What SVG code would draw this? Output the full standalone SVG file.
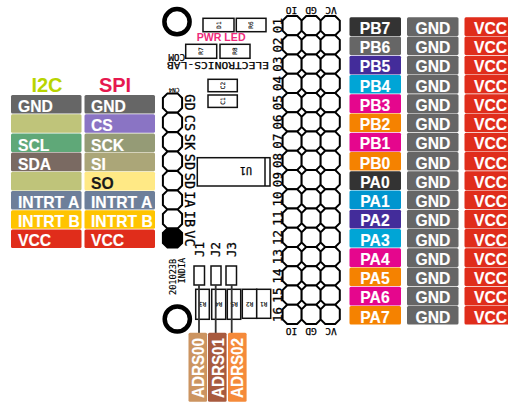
<svg xmlns="http://www.w3.org/2000/svg" width="508" height="403" viewBox="0 0 508 403">
<style>
text{font-family:"Liberation Sans",Arial,sans-serif}
.t{font-size:15.7px;font-weight:700;fill:#fff;stroke:#fff;stroke-width:.15}
.c{text-anchor:middle}
.g{fill:#666}.v{fill:#e02d1b}.o{fill:#f58200}.p{fill:#e5068d}.d{fill:#333}.u{fill:#432c9a}.b{fill:#00a5d6}.l{fill:#bfc47a}.a{fill:#6d7f9a}.y{fill:#ffc400}
.box{fill:#fff;stroke:#111;stroke-width:1.5}
.pad{fill:#fff;stroke:#000;stroke-width:2}
.s{font-size:6px;font-family:"DejaVu Sans Mono",monospace;fill:#000;stroke:#000;stroke-width:.15;text-anchor:middle}
.m{font-family:"DejaVu Sans Mono",monospace;font-size:9.5px;fill:#000;stroke:#000;stroke-width:.25;text-anchor:middle}
.n{font-family:"DejaVu Sans Mono",monospace;font-size:12.5px;fill:#000;stroke:#000;stroke-width:.3;text-anchor:middle}
.hl{font-family:"DejaVu Sans Mono",monospace;font-size:13.5px;fill:#000;stroke:#000;stroke-width:.3;text-anchor:middle}
.hole{fill:none;stroke:#000;stroke-width:4.5}
</style>
<defs>
<polygon id="oct" points="-5,-9.6 5,-9.6 9.6,-5 9.6,5 5,9.6 -5,9.6 -9.6,5 -9.6,-5"/>
<rect id="lb" width="51.5" height="18.6" rx="1.5"/>
<rect id="lt" width="70.5" height="18.6" rx="1.5"/>
<rect id="ad" width="18.6" height="69" rx="1.5"/>
</defs>

<g id="board">
<circle class="hole" cx="177" cy="21.7" r="12.6"/>
<circle class="hole" cx="177.3" cy="319" r="12.6"/>
<rect class="box" x="203" y="18.3" width="31" height="13.4"/>
<rect class="box" x="236.3" y="18.3" width="29.7" height="13.4"/>
<rect class="box" x="185.7" y="44.3" width="31" height="14"/>
<rect class="box" x="220" y="44.3" width="30" height="14"/>
<rect class="box" x="208" y="79.3" width="29.3" height="12.4"/>
<rect class="box" x="208" y="95" width="29.3" height="12.4"/>
<rect class="box" x="197.3" y="157.7" width="72.7" height="28.3"/>
<line class="box" x1="265" y1="157.7" x2="265" y2="186"/>
<rect class="box" x="194" y="266" width="10.5" height="19"/>
<rect class="box" x="211" y="266" width="10" height="19"/>
<rect class="box" x="226" y="266" width="10.5" height="19"/>
<rect class="box" x="195.7" y="289.3" width="13.6" height="30"/>
<rect class="box" x="211.7" y="289.3" width="14" height="30"/>
<rect class="box" x="227.3" y="289.3" width="13.4" height="30"/>
<rect class="box" x="242.3" y="289.3" width="14.4" height="29"/>
<rect class="box" x="256.7" y="289.3" width="14" height="29"/>
<text class="s" transform="rotate(-90 219 25)" x="219" y="27">D1</text>
<text class="s" transform="rotate(-90 251 25)" x="251" y="27">R6</text>
<text class="s" transform="rotate(-90 201 51)" x="201" y="53">R7</text>
<text class="s" transform="rotate(-90 235 51)" x="235" y="53">R8</text>
<text class="s" transform="rotate(-90 222.6 85.5)" x="222.6" y="87.5">C2</text>
<text class="s" transform="rotate(-90 222.6 101)" x="222.6" y="103">C1</text>
<text class="s" transform="rotate(180 202.5 304)" x="202.5" y="306">R3</text>
<text class="s" transform="rotate(180 218.7 304)" x="218.7" y="306">R4</text>
<text class="s" transform="rotate(180 234 304)" x="234" y="306">R5</text>
<text class="s" transform="rotate(180 249.5 304)" x="249.5" y="306">R2</text>
<text class="s" transform="rotate(180 263.7 304)" x="263.7" y="306">R1</text>
<text class="s" transform="rotate(180 174 90)" x="174" y="92">CN4</text>
<text class="m" transform="rotate(180 246 170)" x="246" y="173.5" style="font-size:10px">U1</text>
<text x="196.7" y="41" style="font-size:10.6px;font-weight:700;fill:#ee2a7b">PWR LED</text>
<text class="m" transform="rotate(180 218 65.7)" x="218" y="69.2" textLength="102" lengthAdjust="spacingAndGlyphs">ELECTRONICS-LAB</text>
<text class="m" transform="rotate(180 176.7 57)" x="176.7" y="60.5" textLength="17" lengthAdjust="spacingAndGlyphs">COM</text>
<text class="s" transform="rotate(-90 176 295)" x="176" y="295" style="text-anchor:start;font-size:8.6px">201023B</text>
<text class="s" transform="rotate(-90 184.5 258)" x="184.5" y="258" style="text-anchor:end;font-size:8.4px">INDIA</text>
<text class="n" transform="rotate(-90 199.5 257)" x="199.5" y="261" style="text-anchor:start">J1</text>
<text class="n" transform="rotate(-90 216 257)" x="216" y="261" style="text-anchor:start">J2</text>
<text class="n" transform="rotate(-90 232 257)" x="232" y="261" style="text-anchor:start">J3</text>
</g>

<g id="cn4">
<use href="#oct" class="pad" transform="translate(172.5 103)"/>
<use href="#oct" class="pad" transform="translate(172.5 122.4)"/>
<use href="#oct" class="pad" transform="translate(172.5 141.8)"/>
<use href="#oct" class="pad" transform="translate(172.5 161.2)"/>
<use href="#oct" class="pad" transform="translate(172.5 180.6)"/>
<use href="#oct" class="pad" transform="translate(172.5 200)"/>
<use href="#oct" class="pad" transform="translate(172.5 219)"/>
<use href="#oct" transform="translate(172.5 238)" style="fill:#000;stroke:#000;stroke-width:2"/>
<text class="hl" transform="rotate(90 189.5 102.5)" x="189.5" y="107">GD</text>
<text class="hl" transform="rotate(90 189.5 123)" x="189.5" y="127.5">CS</text>
<text class="hl" transform="rotate(90 189.5 142)" x="189.5" y="146.5">SK</text>
<text class="hl" transform="rotate(90 189.5 162)" x="189.5" y="166.5">SD</text>
<text class="hl" transform="rotate(90 189.5 181)" x="189.5" y="185.5">SD</text>
<text class="hl" transform="rotate(90 189.5 199.5)" x="189.5" y="204">IA</text>
<text class="hl" transform="rotate(90 189.5 219)" x="189.5" y="223.5">IB</text>
<text class="hl" transform="rotate(90 189.5 238.5)" x="189.5" y="243">VC</text>
</g>

<g id="header">
<g id="hdr-labels">
<text class="m" transform="rotate(180 291.5 10.5)" x="291.5" y="14">IO</text>
<text class="m" transform="rotate(180 311 10.5)" x="311" y="14">GD</text>
<text class="m" transform="rotate(180 331 10.5)" x="331" y="14">VC</text>
<text class="m" transform="rotate(180 291.5 331)" x="291.5" y="334.5">IO</text>
<text class="m" transform="rotate(180 311 331)" x="311" y="334.5">GD</text>
<text class="m" transform="rotate(180 331 331)" x="331" y="334.5">VC</text>
</g>
<g id="hdr-numbers">
<text class="n" transform="rotate(-90 277.7 25.6)" x="277.7" y="30">01</text>
<text class="n" transform="rotate(-90 277.7 44.9)" x="277.7" y="49.3">02</text>
<text class="n" transform="rotate(-90 277.7 64.1)" x="277.7" y="68.5">03</text>
<text class="n" transform="rotate(-90 277.7 83.4)" x="277.7" y="87.8">04</text>
<text class="n" transform="rotate(-90 277.7 102.6)" x="277.7" y="107">05</text>
<text class="n" transform="rotate(-90 277.7 121.9)" x="277.7" y="126.3">06</text>
<text class="n" transform="rotate(-90 277.7 141.1)" x="277.7" y="145.5">07</text>
<text class="n" transform="rotate(-90 277.7 160.4)" x="277.7" y="164.8">08</text>
<text class="n" transform="rotate(-90 277.7 179.6)" x="277.7" y="184">09</text>
<text class="n" transform="rotate(-90 277.7 198.9)" x="277.7" y="203.3">10</text>
<text class="n" transform="rotate(-90 277.7 218.1)" x="277.7" y="222.5">11</text>
<text class="n" transform="rotate(-90 277.7 237.4)" x="277.7" y="241.8">12</text>
<text class="n" transform="rotate(-90 277.7 256.6)" x="277.7" y="261">13</text>
<text class="n" transform="rotate(-90 277.7 275.9)" x="277.7" y="280.3">14</text>
<text class="n" transform="rotate(-90 277.7 295.1)" x="277.7" y="299.5">15</text>
<text class="n" transform="rotate(-90 277.7 314.4)" x="277.7" y="318.8">16</text>
</g>
<g id="pads" class="pad">
<use href="#oct" x="292.2" y="25.6"/><use href="#oct" x="311.2" y="25.6"/><use href="#oct" x="330.2" y="25.6"/>
<use href="#oct" x="292.2" y="44.9"/><use href="#oct" x="311.2" y="44.9"/><use href="#oct" x="330.2" y="44.9"/>
<use href="#oct" x="292.2" y="64.1"/><use href="#oct" x="311.2" y="64.1"/><use href="#oct" x="330.2" y="64.1"/>
<use href="#oct" x="292.2" y="83.4"/><use href="#oct" x="311.2" y="83.4"/><use href="#oct" x="330.2" y="83.4"/>
<use href="#oct" x="292.2" y="102.6"/><use href="#oct" x="311.2" y="102.6"/><use href="#oct" x="330.2" y="102.6"/>
<use href="#oct" x="292.2" y="121.9"/><use href="#oct" x="311.2" y="121.9"/><use href="#oct" x="330.2" y="121.9"/>
<use href="#oct" x="292.2" y="141.1"/><use href="#oct" x="311.2" y="141.1"/><use href="#oct" x="330.2" y="141.1"/>
<use href="#oct" x="292.2" y="160.4"/><use href="#oct" x="311.2" y="160.4"/><use href="#oct" x="330.2" y="160.4"/>
<use href="#oct" x="292.2" y="179.6"/><use href="#oct" x="311.2" y="179.6"/><use href="#oct" x="330.2" y="179.6"/>
<use href="#oct" x="292.2" y="198.9"/><use href="#oct" x="311.2" y="198.9"/><use href="#oct" x="330.2" y="198.9"/>
<use href="#oct" x="292.2" y="218.1"/><use href="#oct" x="311.2" y="218.1"/><use href="#oct" x="330.2" y="218.1"/>
<use href="#oct" x="292.2" y="237.4"/><use href="#oct" x="311.2" y="237.4"/><use href="#oct" x="330.2" y="237.4"/>
<use href="#oct" x="292.2" y="256.6"/><use href="#oct" x="311.2" y="256.6"/><use href="#oct" x="330.2" y="256.6"/>
<use href="#oct" x="292.2" y="275.9"/><use href="#oct" x="311.2" y="275.9"/><use href="#oct" x="330.2" y="275.9"/>
<use href="#oct" x="292.2" y="295.1"/><use href="#oct" x="311.2" y="295.1"/><use href="#oct" x="330.2" y="295.1"/>
<use href="#oct" x="292.2" y="314.4"/><use href="#oct" x="311.2" y="314.4"/><use href="#oct" x="330.2" y="314.4"/>
</g>
</g>

<g id="connectors" fill="none" stroke="#333" stroke-width="1.8">
<line x1="199" y1="285" x2="199" y2="333"/>
<line x1="215.7" y1="285" x2="215.7" y2="333"/>
<line x1="231.7" y1="285" x2="231.7" y2="333"/>
</g>

<g id="adrs">
<g id="adrs00"><use href="#ad" x="188.5" y="332.7" style="fill:#cc9460"/><text class="t" transform="rotate(-90 204 398)" x="204" y="398" textLength="60" lengthAdjust="spacingAndGlyphs">ADRS00</text></g>
<g id="adrs01"><use href="#ad" x="208" y="332.7" style="fill:#a85a3e"/><text class="t" transform="rotate(-90 224 398)" x="224" y="398" textLength="60" lengthAdjust="spacingAndGlyphs">ADRS01</text></g>
<g id="adrs02"><use href="#ad" x="228" y="332.7" style="fill:#f58a3a"/><text class="t" transform="rotate(-90 243 398)" x="243" y="398" textLength="60" lengthAdjust="spacingAndGlyphs">ADRS02</text></g>
</g>

<g id="i2c">
<text x="47" y="92" class="c" style="font-size:20px;font-weight:700;fill:#b8d400">I2C</text>
<g id="i2c-gnd"><use href="#lt" x="11" y="95" class="g"/><text class="t" x="18" y="112">GND</text></g>
<g id="i2c-blank1"><use href="#lt" x="11" y="114.2" class="l"/></g>
<g id="i2c-scl"><use href="#lt" x="11" y="133.4" style="fill:#5fa878"/><text class="t" x="18" y="150.5">SCL</text></g>
<g id="i2c-sda"><use href="#lt" x="11" y="152.6" style="fill:#7a6a62"/><text class="t" x="18" y="169.5">SDA</text></g>
<g id="i2c-blank2"><use href="#lt" x="11" y="171.8" class="l"/></g>
<g id="i2c-a"><use href="#lt" x="11" y="191" class="a"/><text class="t" x="18" y="208">INTRT A</text></g>
<g id="i2c-b"><use href="#lt" x="11" y="210.2" class="y"/><text class="t" x="18" y="227">INTRT B</text></g>
<g id="i2c-vcc"><use href="#lt" x="11" y="229.4" class="v"/><text class="t" x="18" y="246.3">VCC</text></g>
</g>

<g id="spi">
<text x="115" y="92" class="c" style="font-size:20px;font-weight:700;fill:#e6184f">SPI</text>
<g id="spi-gnd"><use href="#lt" x="84.5" y="95" class="g"/><text class="t" x="91" y="112">GND</text></g>
<g id="spi-cs"><use href="#lt" x="84.5" y="114.2" style="fill:#8a74c4"/><text class="t" x="91" y="131">CS</text></g>
<g id="spi-sck"><use href="#lt" x="84.5" y="133.4" style="fill:#959b76"/><text class="t" x="91" y="150.5">SCK</text></g>
<g id="spi-si"><use href="#lt" x="84.5" y="152.6" style="fill:#aba678"/><text class="t" x="91" y="169.5">SI</text></g>
<g id="spi-so"><use href="#lt" x="84.5" y="171.8" style="fill:#ffe985"/><text class="t" x="91" y="189" style="fill:#1a1a1a;stroke:#1a1a1a">SO</text></g>
<g id="spi-a"><use href="#lt" x="84.5" y="191" class="a"/><text class="t" x="91" y="208">INTRT A</text></g>
<g id="spi-b"><use href="#lt" x="84.5" y="210.2" class="y"/><text class="t" x="91" y="227">INTRT B</text></g>
<g id="spi-vcc"><use href="#lt" x="84.5" y="229.4" class="v"/><text class="t" x="91" y="246.3">VCC</text></g>
</g>

<g id="pins">
<g id="pb7"><use href="#lb" x="349.5" y="17.3" class="d"/><text class="t c" x="375" y="34">PB7</text></g>
<g id="pb6"><use href="#lb" x="349.5" y="36.5" class="g"/><text class="t c" x="375" y="53">PB6</text></g>
<g id="pb5"><use href="#lb" x="349.5" y="55.8" class="u"/><text class="t c" x="375" y="72">PB5</text></g>
<g id="pb4"><use href="#lb" x="349.5" y="75" class="b"/><text class="t c" x="375" y="91.5">PB4</text></g>
<g id="pb3"><use href="#lb" x="349.5" y="94.3" class="p"/><text class="t c" x="375" y="110.5">PB3</text></g>
<g id="pb2"><use href="#lb" x="349.5" y="113.5" class="o"/><text class="t c" x="375" y="130">PB2</text></g>
<g id="pb1"><use href="#lb" x="349.5" y="132.8" class="p"/><text class="t c" x="375" y="149">PB1</text></g>
<g id="pb0"><use href="#lb" x="349.5" y="152" class="o"/><text class="t c" x="375" y="168.5">PB0</text></g>
<g id="pa0"><use href="#lb" x="349.5" y="171.3" class="d"/><text class="t c" x="375" y="187.5">PA0</text></g>
<g id="pa1"><use href="#lb" x="349.5" y="190.5" style="fill:#0095cf"/><text class="t c" x="375" y="207">PA1</text></g>
<g id="pa2"><use href="#lb" x="349.5" y="209.8" class="u"/><text class="t c" x="375" y="226">PA2</text></g>
<g id="pa3"><use href="#lb" x="349.5" y="229" class="b"/><text class="t c" x="375" y="245.5">PA3</text></g>
<g id="pa4"><use href="#lb" x="349.5" y="248.3" class="p"/><text class="t c" x="375" y="264.5">PA4</text></g>
<g id="pa5"><use href="#lb" x="349.5" y="267.5" class="o"/><text class="t c" x="375" y="284">PA5</text></g>
<g id="pa6"><use href="#lb" x="349.5" y="286.8" class="p"/><text class="t c" x="375" y="303">PA6</text></g>
<g id="pa7"><use href="#lb" x="349.5" y="306" class="o"/><text class="t c" x="375" y="322.5">PA7</text></g>
</g>

<g id="gnd-col">
<g><use href="#lb" x="407" y="17.3" class="g"/><text class="t c" x="433" y="34">GND</text></g>
<g><use href="#lb" x="407" y="36.5" class="g"/><text class="t c" x="433" y="53">GND</text></g>
<g><use href="#lb" x="407" y="55.8" class="g"/><text class="t c" x="433" y="72">GND</text></g>
<g><use href="#lb" x="407" y="75" class="g"/><text class="t c" x="433" y="91.5">GND</text></g>
<g><use href="#lb" x="407" y="94.3" class="g"/><text class="t c" x="433" y="110.5">GND</text></g>
<g><use href="#lb" x="407" y="113.5" class="g"/><text class="t c" x="433" y="130">GND</text></g>
<g><use href="#lb" x="407" y="132.8" class="g"/><text class="t c" x="433" y="149">GND</text></g>
<g><use href="#lb" x="407" y="152" class="g"/><text class="t c" x="433" y="168.5">GND</text></g>
<g><use href="#lb" x="407" y="171.3" class="g"/><text class="t c" x="433" y="187.5">GND</text></g>
<g><use href="#lb" x="407" y="190.5" class="g"/><text class="t c" x="433" y="207">GND</text></g>
<g><use href="#lb" x="407" y="209.8" class="g"/><text class="t c" x="433" y="226">GND</text></g>
<g><use href="#lb" x="407" y="229" class="g"/><text class="t c" x="433" y="245.5">GND</text></g>
<g><use href="#lb" x="407" y="248.3" class="g"/><text class="t c" x="433" y="264.5">GND</text></g>
<g><use href="#lb" x="407" y="267.5" class="g"/><text class="t c" x="433" y="284">GND</text></g>
<g><use href="#lb" x="407" y="286.8" class="g"/><text class="t c" x="433" y="303">GND</text></g>
<g><use href="#lb" x="407" y="306" class="g"/><text class="t c" x="433" y="322.5">GND</text></g>
</g>

<g id="vcc-col">
<g><use href="#lb" x="464.5" y="17.3" class="v"/><text class="t" x="474" y="34">VCC</text></g>
<g><use href="#lb" x="464.5" y="36.5" class="v"/><text class="t" x="474" y="53">VCC</text></g>
<g><use href="#lb" x="464.5" y="55.8" class="v"/><text class="t" x="474" y="72">VCC</text></g>
<g><use href="#lb" x="464.5" y="75" class="v"/><text class="t" x="474" y="91.5">VCC</text></g>
<g><use href="#lb" x="464.5" y="94.3" class="v"/><text class="t" x="474" y="110.5">VCC</text></g>
<g><use href="#lb" x="464.5" y="113.5" class="v"/><text class="t" x="474" y="130">VCC</text></g>
<g><use href="#lb" x="464.5" y="132.8" class="v"/><text class="t" x="474" y="149">VCC</text></g>
<g><use href="#lb" x="464.5" y="152" class="v"/><text class="t" x="474" y="168.5">VCC</text></g>
<g><use href="#lb" x="464.5" y="171.3" class="v"/><text class="t" x="474" y="187.5">VCC</text></g>
<g><use href="#lb" x="464.5" y="190.5" class="v"/><text class="t" x="474" y="207">VCC</text></g>
<g><use href="#lb" x="464.5" y="209.8" class="v"/><text class="t" x="474" y="226">VCC</text></g>
<g><use href="#lb" x="464.5" y="229" class="v"/><text class="t" x="474" y="245.5">VCC</text></g>
<g><use href="#lb" x="464.5" y="248.3" class="v"/><text class="t" x="474" y="264.5">VCC</text></g>
<g><use href="#lb" x="464.5" y="267.5" class="v"/><text class="t" x="474" y="284">VCC</text></g>
<g><use href="#lb" x="464.5" y="286.8" class="v"/><text class="t" x="474" y="303">VCC</text></g>
<g><use href="#lb" x="464.5" y="306" class="v"/><text class="t" x="474" y="322.5">VCC</text></g>
</g>
</svg>
